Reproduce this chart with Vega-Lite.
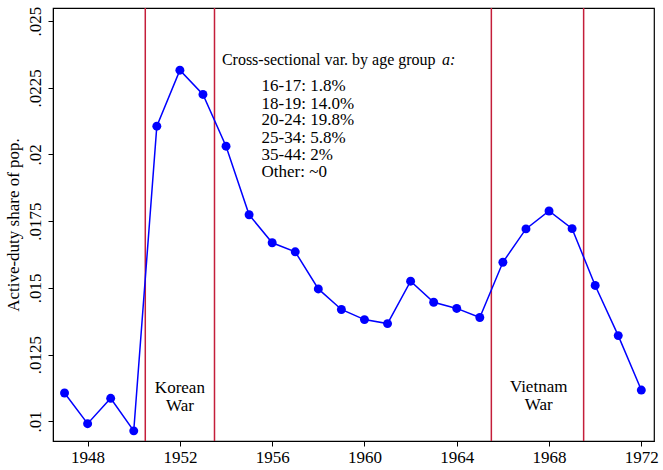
{
  "$schema": "https://vega.github.io/schema/vega-lite/v6.json",
  "autosize": "none",
  "width": 601,
  "height": 433,
  "padding": {"left": 53, "top": 8, "right": 9, "bottom": 29},
  "background": "white",
  "config": {
    "view": {"stroke": "black", "strokeWidth": 1.2},
    "font": "Liberation Serif",
    "axis": {"grid": false, "domainColor": "black", "tickColor": "black", "labelColor": "black", "titleColor": "black", "labelFont": "Liberation Serif", "titleFont": "Liberation Serif", "labelFontSize": 17, "titleFontSize": 17, "titleFontWeight": "normal", "tickSize": 5}
  },
  "datasets": {
    "series": [
      {"year": 1947, "share": 0.01106},
      {"year": 1948, "share": 0.00991},
      {"year": 1949, "share": 0.01086},
      {"year": 1950, "share": 0.00964},
      {"year": 1951, "share": 0.02106},
      {"year": 1952, "share": 0.02316},
      {"year": 1953, "share": 0.02225},
      {"year": 1954, "share": 0.02031},
      {"year": 1955, "share": 0.01774},
      {"year": 1956, "share": 0.01669},
      {"year": 1957, "share": 0.01635},
      {"year": 1958, "share": 0.01496},
      {"year": 1959, "share": 0.01419},
      {"year": 1960, "share": 0.01381},
      {"year": 1961, "share": 0.01366},
      {"year": 1962, "share": 0.01525},
      {"year": 1963, "share": 0.01446},
      {"year": 1964, "share": 0.01423},
      {"year": 1965, "share": 0.01389},
      {"year": 1966, "share": 0.01596},
      {"year": 1967, "share": 0.01721},
      {"year": 1968, "share": 0.01788},
      {"year": 1969, "share": 0.01722},
      {"year": 1970, "share": 0.01509},
      {"year": 1971, "share": 0.01321},
      {"year": 1972, "share": 0.01117}
    ],
    "wars": [
      {"year": 1950.5}, {"year": 1953.5}, {"year": 1965.5}, {"year": 1969.5}
    ],
    "warlabels": [
      {"year": 1952, "share": 0.01126, "label": "Korean"},
      {"year": 1952, "share": 0.01059, "label": "War"},
      {"year": 1967.55, "share": 0.01128, "label": "Vietnam"},
      {"year": 1967.55, "share": 0.01061, "label": "War"}
    ],
    "legendlines": [
      {"year": 1955.54, "share": 0.02256, "label": "16-17: 1.8%"},
      {"year": 1955.54, "share": 0.02191, "label": "18-19: 14.0%"},
      {"year": 1955.54, "share": 0.02129, "label": "20-24: 19.8%"},
      {"year": 1955.54, "share": 0.02062, "label": "25-34: 5.8%"},
      {"year": 1955.54, "share": 0.01997, "label": "35-44: 2%"},
      {"year": 1955.54, "share": 0.01935, "label": "Other: ~0"}
    ],
    "header": [
      {"year": 1953.82, "share": 0.02354, "label": "Cross-sectional var. by age group"}
    ],
    "headerA": [
      {"year": 1963.36, "share": 0.02354, "label": "a:"}
    ]
  },
  "layer": [
    {
      "data": {"name": "wars"},
      "mark": {"type": "rule", "color": "#c41e3a", "strokeWidth": 1.5},
      "encoding": {
        "x": {"field": "year", "type": "quantitative"}
      }
    },
    {
      "data": {"name": "series"},
      "mark": {"type": "line", "color": "#0000ff", "strokeWidth": 1.5},
      "encoding": {
        "x": {"field": "year", "type": "quantitative", "scale": {"domain": [1946.5, 1972.55], "nice": false, "zero": false}, "axis": {"values": [1948, 1952, 1956, 1960, 1964, 1968, 1972], "format": "d", "title": null, "labelPadding": 3}},
        "y": {"field": "share", "type": "quantitative", "scale": {"domain": [0.00926, 0.02549], "nice": false, "zero": false}, "axis": {"values": [0.01, 0.0125, 0.015, 0.0175, 0.02, 0.0225, 0.025], "labelExpr": "substring(format(datum.value, '~g'), 1)", "labelAngle": 270, "labelAlign": "center", "labelBaseline": "bottom", "labelPadding": 4, "title": "Active-duty share of pop.", "titlePadding": 4}}
      }
    },
    {
      "data": {"name": "series"},
      "mark": {"type": "point", "filled": true, "color": "#0000ff", "size": 80, "opacity": 1},
      "encoding": {
        "x": {"field": "year", "type": "quantitative"},
        "y": {"field": "share", "type": "quantitative"}
      }
    },
    {
      "data": {"name": "warlabels"},
      "mark": {"type": "text", "font": "Liberation Serif", "fontSize": 17, "align": "center", "baseline": "middle", "color": "black"},
      "encoding": {
        "x": {"field": "year", "type": "quantitative"},
        "y": {"field": "share", "type": "quantitative"},
        "text": {"field": "label"}
      }
    },
    {
      "data": {"name": "legendlines"},
      "mark": {"type": "text", "font": "Liberation Serif", "fontSize": 17, "align": "left", "baseline": "middle", "color": "black"},
      "encoding": {
        "x": {"field": "year", "type": "quantitative"},
        "y": {"field": "share", "type": "quantitative"},
        "text": {"field": "label"}
      }
    },
    {
      "data": {"name": "header"},
      "mark": {"type": "text", "font": "Liberation Serif", "fontSize": 16, "align": "left", "baseline": "middle", "color": "black"},
      "encoding": {
        "x": {"field": "year", "type": "quantitative"},
        "y": {"field": "share", "type": "quantitative"},
        "text": {"field": "label"}
      }
    },
    {
      "data": {"name": "headerA"},
      "mark": {"type": "text", "font": "Liberation Serif", "fontSize": 16, "fontStyle": "italic", "align": "left", "baseline": "middle", "color": "black"},
      "encoding": {
        "x": {"field": "year", "type": "quantitative"},
        "y": {"field": "share", "type": "quantitative"},
        "text": {"field": "label"}
      }
    }
  ]
}
